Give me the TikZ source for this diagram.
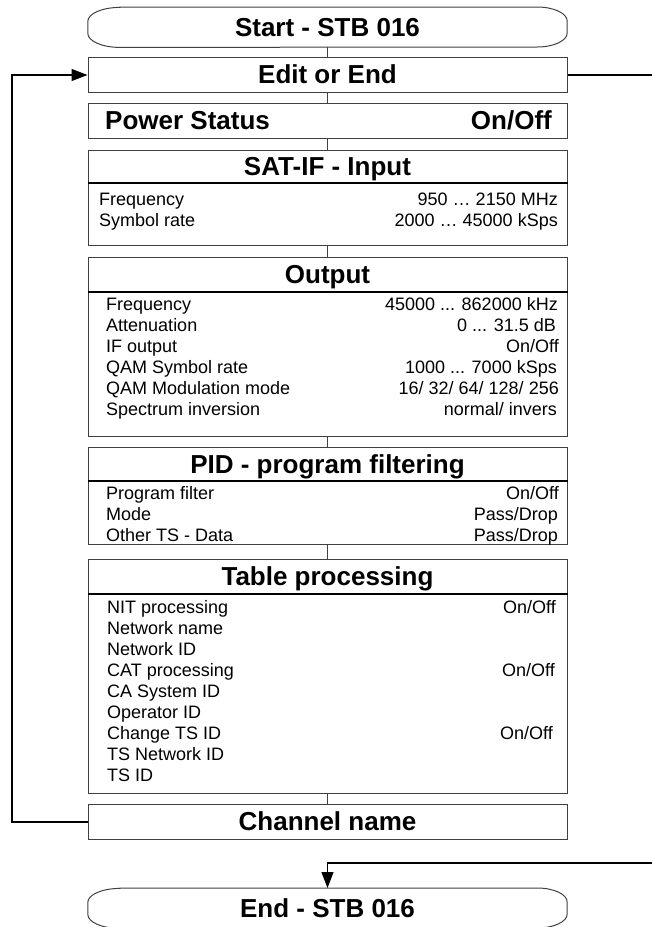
\documentclass[tikz,border=0pt]{standalone}
\usepackage{fontspec}
\setmainfont{Liberation Sans}
\usetikzlibrary{arrows.meta,calc}
\begin{document}
\begin{tikzpicture}[x=1pt,y=-1pt,
  box/.style={draw=black!75, line width=1pt, minimum width=479pt, inner sep=0pt, anchor=north},
  frame/.style={minimum width=479pt, minimum height=40pt, inner sep=0pt, anchor=north},
  capsule/.style={draw=black!75, line width=1pt},
  hdr/.style={font=\fontsize{26}{30}\selectfont\bfseries, anchor=base, inner sep=0pt},
  hdrl/.style={font=\fontsize{26}{30}\selectfont\bfseries, anchor=base west, inner sep=0pt},
  hdrr/.style={font=\fontsize{26}{30}\selectfont\bfseries, anchor=base east, inner sep=0pt},
  bl/.style={font=\fontsize{18}{21}\selectfont, anchor=base west, inner sep=0pt},
  br/.style={font=\fontsize{18}{21}\selectfont, anchor=base east, inner sep=0pt},
  conn/.style={draw=black!75, line width=1pt},
  sep/.style={draw=black, line width=1.2pt},
  loopline/.style={draw=black, line width=1.2pt},
  tip/.style={-{Triangle[length=16pt,width=12pt]}}
]
\useasboundingbox (0,0) rectangle (652,927);

% Start capsule
\node[frame] (start) at (327.5,7) {};
\draw[capsule] ($(start.north west)+(32,0)$) -- ($(start.north east)+(-30,0)$)
  arc[start angle=-90,end angle=0,x radius=30,y radius=14] -- ++(0,12)
  arc[start angle=0,end angle=90,x radius=30,y radius=14]
  -- ($(start.south west)+(32,0)$)
  arc[start angle=90,end angle=180,x radius=32,y radius=14] -- ++(0,-12)
  arc[start angle=180,end angle=270,x radius=32,y radius=14] -- cycle;
\node[hdr] (startt) at (327.5,36) {Start - STB 016};

% Edit or End
\node[box, minimum height=35pt] (edit) at (327.5,57) {};
\node[hdr] (editt) at (327.5,83.5) {Edit or End};

% Power status
\node[box, minimum height=35pt] (power) at (327.5,103) {};
\node[hdrl] (powerl) at (105,129.5) {Power Status};
\node[hdrr] (powerr) at (552,129.5) {On/Off};

% SAT-IF input
\node[box, minimum height=95pt] (sat) at (327.5,150) {};
\node[hdr] (satt) at (327.5,175.5) {SAT-IF - Input};
\draw[sep] (sat.west |- 0,183) -- (sat.east |- 0,183);
\node[bl] (sat1l) at (99,205) {Frequency};
\node[br] (sat1r) at (558,205) {950 … 2150 MHz};
\node[bl] (sat2l) at (99,226) {Symbol rate};
\node[br] (sat2r) at (558,226) {2000 … 45000 kSps};

% Output
\node[box, minimum height=179pt] (out) at (327.5,257) {};
\node[hdr] (outt) at (327.5,283) {Output};
\draw[sep] (out.west |- 0,292) -- (out.east |- 0,292);
\node[bl] (o1l) at (106,310) {Frequency};
\node[br] (o1r) at (558,310) {45000 ... 862000 kHz};
\node[bl] (o2l) at (106,331) {Attenuation};
\node[br] (o2r) at (556,331) {0 ... 31.5 dB};
\node[bl] (o3l) at (106,352) {IF output};
\node[br] (o3r) at (559,352) {On/Off};
\node[bl] (o4l) at (106,373) {QAM Symbol rate};
\node[br] (o4r) at (557,373) {1000 ... 7000 kSps};
\node[bl] (o5l) at (106,394) {QAM Modulation mode};
\node[br] (o5r) at (559,394) {16/ 32/ 64/ 128/ 256};
\node[bl] (o6l) at (106,415) {Spectrum inversion};
\node[br] (o6r) at (557,415) {normal/ invers};

% PID
\node[box, minimum height=97pt] (pid) at (327.5,447) {};
\node[hdr] (pidt) at (327.5,473) {PID - program filtering};
\draw[sep] (pid.west |- 0,481) -- (pid.east |- 0,481);
\node[bl] (p1l) at (106,499) {Program filter};
\node[br] (p1r) at (559,499) {On/Off};
\node[bl] (p2l) at (106,520) {Mode};
\node[br] (p2r) at (558,520) {Pass/Drop};
\node[bl] (p3l) at (106,541) {Other TS - Data};
\node[br] (p3r) at (558,541) {Pass/Drop};

% Table processing
\node[box, minimum height=234pt] (tab) at (327.5,559) {};
\node[hdr] (tabt) at (327.5,585.5) {Table processing};
\draw[sep] (tab.west |- 0,594) -- (tab.east |- 0,594);
\node[bl] (t1l) at (107,613) {NIT processing};
\node[br] (t1r) at (556,613) {On/Off};
\node[bl] (t2l) at (107,634) {Network name};
\node[bl] (t3l) at (107,655) {Network ID};
\node[bl] (t4l) at (107,676) {CAT processing};
\node[br] (t4r) at (555,676) {On/Off};
\node[bl] (t5l) at (107,697) {CA System ID};
\node[bl] (t6l) at (107,718) {Operator ID};
\node[bl] (t7l) at (107,739) {Change TS ID};
\node[br] (t7r) at (553,739) {On/Off};
\node[bl] (t8l) at (107,760) {TS Network ID};
\node[bl] (t9l) at (107,781) {TS ID};

% Channel name
\node[box, minimum height=35pt] (chan) at (327.5,804) {};
\node[hdr] (chant) at (327.5,830.5) {Channel name};

% End capsule
\node[frame] (endc) at (327.5,888) {};
\draw[capsule] ($(endc.north west)+(32,0)$) -- ($(endc.north east)+(-30,0)$)
  arc[start angle=-90,end angle=0,x radius=30,y radius=14] -- ++(0,12)
  arc[start angle=0,end angle=90,x radius=30,y radius=14]
  -- ($(endc.south west)+(32,0)$)
  arc[start angle=90,end angle=180,x radius=32,y radius=14] -- ++(0,-12)
  arc[start angle=180,end angle=270,x radius=32,y radius=14] -- cycle;
\node[hdr] (endt) at (327.5,917) {End - STB 016};

% vertical connectors
\draw[conn] (start.south) -- (edit.north);
\draw[conn] (edit.south) -- (power.north);
\draw[conn] (power.south) -- (sat.north);
\draw[conn] (sat.south) -- (out.north);
\draw[conn] (out.south) -- (pid.north);
\draw[conn] (pid.south) -- (tab.north);
\draw[conn] (tab.south) -- (chan.north);

% loops
\coordinate (lx) at (12,0);
\coordinate (rx) at (670,863);
\draw[loopline, tip] (chan.west) -- (chan.west -| lx) -- (edit.west -| lx) -- (edit.west);
\draw[loopline, tip] (edit.east) -- (edit.east -| rx) -- (rx) -- (rx -| endc.north) -- (endc.north);
\end{tikzpicture}
\end{document}
